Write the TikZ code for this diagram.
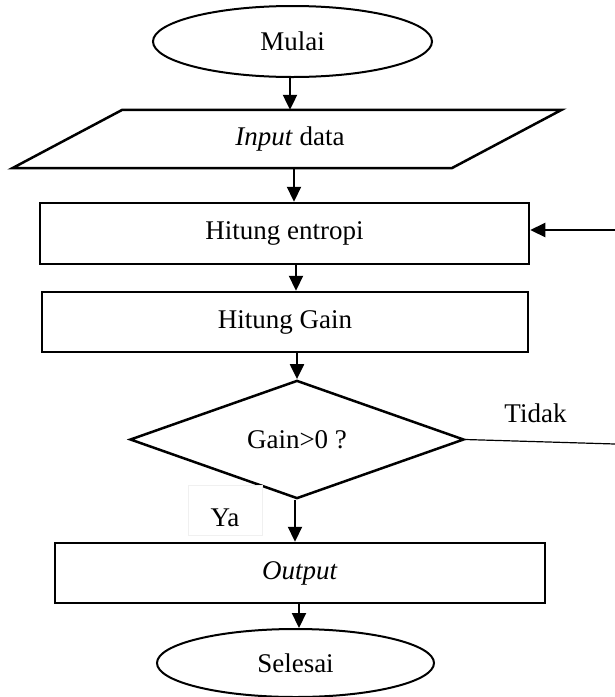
\documentclass[tikz,border=0pt]{standalone}
\usepackage{fontspec}
\setmainfont{Liberation Serif}
\usetikzlibrary{shapes.geometric,arrows.meta}

\begin{document}
\begin{tikzpicture}[x=1pt,y=-1pt,
  every node/.style={font=\fontsize{27}{31}\selectfont, inner sep=0pt},
  terminal/.style={ellipse, draw, line width=2pt, fill=white},
  process/.style={rectangle, draw, line width=2.5pt, fill=white},
  decision/.style={diamond, draw, line width=2.5pt, fill=white},
  flow/.style={line width=2.2pt, -{Triangle[length=15pt,width=14pt]}},
  thinline/.style={line width=1.2pt},
  tag/.style={fill=white, draw=black!6, line width=0.8pt}
]
\useasboundingbox (0,0) rectangle (615,697);

% start
\node[terminal, minimum width=279pt, minimum height=71pt] (mulai) at (292.5,41.5) {Mulai};

% input (parallelogram drawn round a borderless node)
\node[minimum width=439pt, minimum height=58pt] (input) at (287,139) {};
\draw[line width=2.5pt, line join=miter]
  ([xshift=-55pt]input.south west) -- ([xshift=-55pt]input.south east)
  -- ([xshift=55pt]input.north east) -- ([xshift=55pt]input.north west) -- cycle;
\node (inputtext) at (290,139) {\textit{Input} data};

% processes
\node[process, minimum width=489pt, minimum height=61pt] (entropi) at (284.5,233.5) {Hitung entropi};
\node[process, minimum width=486pt, minimum height=60pt] (gain) at (285,322) {Hitung Gain};

% decision
\node[decision, minimum width=334pt, minimum height=117pt] (cek) at (297,439.5) {Gain>0 ?};

% output
\node[process, minimum width=490pt, minimum height=60pt] (output) at (300,573) {\textit{Output}};

% end
\node[terminal, minimum width=277pt, minimum height=68pt] (selesai) at (295.5,663) {Selesai};

% x positions of the vertical connectors
\coordinate (x1) at (290,0);
\coordinate (x2) at (294,0);
\coordinate (x3) at (296,0);
\coordinate (x4) at (297,0);
\coordinate (x5) at (295,0);
\coordinate (x6) at (299,0);

\draw[flow] (mulai.south -| x1) -- (input.north -| x1);
\draw[flow] (input.south -| x2) -- (entropi.north -| x2);
\draw[flow] (entropi.south -| x3) -- (gain.north -| x3);
\draw[flow] (gain.south -| x4) -- (cek.north -| x4);
\draw[flow] (cek.south -| x5) -- (output.north -| x5);
\draw[flow] (output.south -| x6) -- (selesai.north -| x6);

% "Ya" label on its white box
\node[tag, minimum width=74pt, minimum height=50pt] (yabox) at (225,510) {};
\node[anchor=base] (ya) at (225,526) {Ya};

% "Tidak" branch and loop back
\node[anchor=base] (tidak) at (535.5,422) {Tidak};
\coordinate (tidakend) at (615,444);
\draw[thinline] (cek.east) -- (tidakend);
\coordinate (loopin) at (615,230);
\draw[flow] (loopin) -- (entropi.east |- loopin);
\end{tikzpicture}
\end{document}
